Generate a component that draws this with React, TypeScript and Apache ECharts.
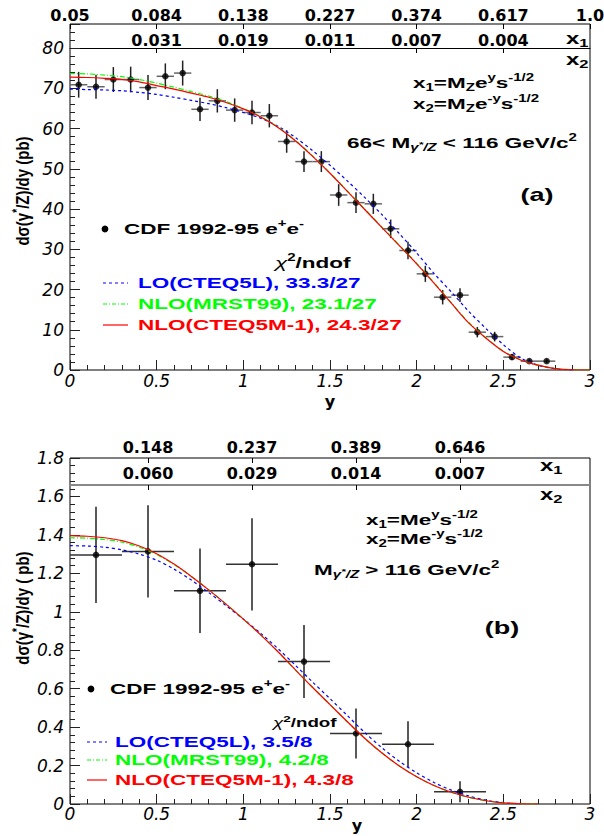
import React, { useEffect, useRef } from 'react';
import * as echarts from 'echarts';

// ---------------- data ----------------
// Panel (a): 66 < M < 116 GeV/c^2
const topBinCenters = [0.05, 0.15, 0.25, 0.35, 0.45, 0.55, 0.65, 0.75, 0.85, 0.95,
  1.05, 1.15, 1.25, 1.35, 1.45, 1.55, 1.65, 1.75, 1.85, 1.95,
  2.05, 2.15, 2.25, 2.35, 2.45, 2.55, 2.65, 2.75];
const topXsec = [70.9, 70.4, 72.2, 72.2, 70.2, 73.0, 73.8, 64.8, 66.9, 64.6,
  64.0, 63.2, 56.8, 51.8, 51.8, 43.5, 41.6, 41.3, 35.1, 29.7,
  23.9, 18.1, 18.6, 9.4, 8.3, 3.2, 2.2, 2.2];
const topErr = [3.2, 3.0, 3.1, 3.2, 3.1, 3.2, 3.1, 2.9, 2.9, 2.9,
  2.9, 2.9, 2.8, 2.6, 2.6, 2.7, 2.6, 2.5, 2.3, 2.2,
  2.0, 1.8, 1.7, 1.3, 1.2, 0.7, 0.5, 0.5];
const topHalfBin = 0.05;

const topCurveX = [0, 0.1, 0.2, 0.3, 0.4, 0.5, 0.6, 0.7, 0.8, 0.9, 1.0, 1.1, 1.2, 1.3, 1.4, 1.5,
  1.6, 1.7, 1.8, 1.9, 2.0, 2.1, 2.2, 2.3, 2.4, 2.5, 2.6, 2.7, 2.8, 2.9, 3.0];
const topLO = [69.8, 69.7, 69.6, 69.4, 69.0, 68.5, 67.8, 67.0, 66.2, 65.2, 64.0, 62.6, 60.6, 57.8, 54.5, 50.9,
  47.0, 42.9, 38.6, 33.9, 29.1, 24.0, 19.4, 14.6, 10.3, 6.3, 3.0, 1.2, 0.3, 0];
const topNLOMRST = [73.7, 73.6, 73.3, 72.9, 72.2, 71.3, 70.3, 69.2, 68.1, 66.7, 65.0, 63.0, 60.4, 57.1, 53.2, 49.0,
  44.5, 40.0, 35.5, 31.0, 26.5, 21.7, 16.7, 11.8, 8.0, 4.7, 2.5, 1.2, 0.35, 0.05, 0];
const topNLOCTEQ = [72.8, 72.7, 72.5, 72.2, 71.6, 70.7, 69.8, 68.8, 67.8, 66.5, 64.9, 62.9, 60.3, 57.0, 53.1, 48.9,
  44.4, 39.9, 35.4, 30.9, 26.4, 21.6, 16.6, 11.7, 7.9, 4.6, 2.5, 1.2, 0.35, 0.05, 0];

// Panel (b): M > 116 GeV/c^2
const botBinCenters = [0.15, 0.45, 0.75, 1.05, 1.35, 1.65, 1.95, 2.25];
const botXsec = [1.296, 1.314, 1.109, 1.247, 0.741, 0.367, 0.311, 0.064];
const botErr = [0.25, 0.24, 0.22, 0.24, 0.19, 0.13, 0.12, 0.055];
const botHalfBin = 0.15;

const botCurveX = [0, 0.1, 0.2, 0.3, 0.4, 0.5, 0.6, 0.7, 0.8, 0.9, 1.0, 1.1, 1.2, 1.3, 1.4, 1.5,
  1.6, 1.7, 1.8, 1.9, 2.0, 2.1, 2.2, 2.3, 2.4, 2.5, 2.6, 2.7];
const botLO = [1.344, 1.342, 1.336, 1.322, 1.300, 1.268, 1.222, 1.165, 1.100, 1.032, 0.962, 0.888, 0.808, 0.722,
  0.634, 0.548, 0.460, 0.372, 0.292, 0.222, 0.162, 0.112, 0.072, 0.042, 0.020, 0.007, 0];
const botNLOMRST = [1.385, 1.383, 1.376, 1.362, 1.336, 1.298, 1.246, 1.184, 1.114, 1.040, 0.962, 0.880, 0.792, 0.698,
  0.606, 0.517, 0.428, 0.342, 0.265, 0.198, 0.142, 0.096, 0.061, 0.035, 0.017, 0.006, 0.001, 0];
const botNLOCTEQ = [1.396, 1.393, 1.385, 1.370, 1.342, 1.302, 1.248, 1.184, 1.114, 1.040, 0.962, 0.880, 0.792, 0.698,
  0.606, 0.517, 0.428, 0.342, 0.265, 0.198, 0.142, 0.096, 0.061, 0.035, 0.017, 0.006, 0.001, 0];

// top-axis (x1 / x2) tick labels
const x1TopLabels = ['0.05', '0.084', '0.138', '0.227', '0.374', '0.617', '1.0'];
const x2TopLabels = ['', '0.031', '0.019', '0.011', '0.007', '0.004', ''];
const x1BotLabels = ['0.148', '0.237', '0.389', '0.646'];
const x2BotLabels = ['0.060', '0.029', '0.014', '0.007'];
const botLabelBins = [1, 3, 5, 7]; // index among 10 bins of width 0.3 (centres 0.45, 1.05, 1.65, 2.25)
const botBinCount = 10;

const chi2Top = ['33.3/27', '23.1/27', '24.3/27'];
const chi2Bot = ['3.5/8', '4.2/8', '4.3/8'];
const modelNames = ['LO(CTEQ5L)', 'NLO(MRST99)', 'NLO(CTEQ5M-1)'];

// ---------------- styling ----------------
const TF = 'DejaVu Sans';
const GF = 'Liberation Sans';
const BLUE = '#0000ff';
const GREEN = '#00ff00';
const RED = '#ff0000';
const SX = 1.5;

function rich(color: string, size: number) {
  const base = { fontFamily: GF, fontWeight: 'bold', fill: color };
  const s = Math.round(size * 0.68);
  return {
    n: { ...base, fontSize: size },
    i: { ...base, fontSize: size, fontStyle: 'italic', fontWeight: 'normal' },
    sup: { ...base, fontSize: s, padding: [0, 0, Math.round(size * 0.75), 0] },
    sub: { ...base, fontSize: s, padding: [Math.round(size * 0.55), 0, 0, 0] },
    subi: { ...base, fontSize: s, fontStyle: 'italic', padding: [Math.round(size * 0.55), 0, 0, 0] },
    subs: { ...base, fontSize: Math.round(size * 0.5), fontStyle: 'italic', padding: [Math.round(size * 0.1), 0, 0, 0] },
  };
}

function gtext(x: number, y: number, text: string, color: string, opts: any = {}) {
  const size = opts.size ?? 15;
  return {
    type: 'text',
    x,
    y,
    scaleX: opts.scaleX ?? SX,
    scaleY: opts.scaleY ?? 1,
    rotation: opts.rotation ?? 0,
    silent: true,
    z: 20,
    style: {
      text,
      rich: rich(color, size),
      fill: color,
      fontFamily: GF,
      fontWeight: 'bold',
      fontSize: size,
      align: opts.align ?? 'left',
      verticalAlign: 'middle',
    },
  };
}

function legendLine(x1: number, x2: number, y: number, color: string, dash: number[] | null) {
  return {
    type: 'line',
    silent: true,
    z: 20,
    shape: { x1, y1: y, x2, y2: y },
    style: { stroke: color, lineWidth: 1.2, lineDash: dash || undefined },
  };
}

function valueXAxis(gridIndex: number, name: string, nameGap: number, labelMargin: number) {
  return {
    type: 'value',
    gridIndex,
    position: 'bottom',
    min: 0,
    max: 3,
    interval: 0.5,
    axisLine: { show: false, onZero: false },
    axisTick: { show: true, inside: true, length: 10, lineStyle: { color: '#222', width: 1 } },
    minorTick: { show: true, splitNumber: 5, length: 5, lineStyle: { color: '#222', width: 1 } },
    axisLabel: {
      color: '#000', fontFamily: TF, fontStyle: 'italic', fontSize: 17, margin: labelMargin, lineHeight: 13,
    },
    splitLine: { show: false },
    minorSplitLine: { show: false },
    name,
    nameLocation: 'middle',
    nameGap,
    nameTextStyle: { color: '#000', fontFamily: TF, fontWeight: 'bold', fontSize: 16, lineHeight: 14 },
  };
}

function catTopAxis(gridIndex: number, data: string[], boundaryGap: boolean, offset: number,
  margin: number, line: any) {
  const keep = (_i: number, v: string) => v !== '';
  return {
    type: 'category',
    gridIndex,
    position: 'top',
    data,
    boundaryGap,
    offset,
    axisLine: line ? { show: true, onZero: false, lineStyle: line } : { show: false, onZero: false },
    axisTick: {
      show: true, inside: true, length: 5, alignWithLabel: true, interval: keep,
      lineStyle: { color: '#000', width: 1 },
    },
    axisLabel: { interval: 0, margin, color: '#000', fontFamily: TF, fontWeight: 'bold', fontSize: 16 },
    splitLine: { show: false },
  };
}

function errRender(hColor: string) {
  return (_params: any, api: any) => {
    const x = api.value(0);
    const y = api.value(1);
    const ex = api.value(2);
    const ey = api.value(3);
    const l = api.coord([x - ex, y]);
    const r = api.coord([x + ex, y]);
    const t = api.coord([x, y + ey]);
    const b = api.coord([x, y - ey]);
    return {
      type: 'group',
      children: [
        { type: 'line', shape: { x1: l[0], y1: l[1], x2: r[0], y2: r[1] }, style: { stroke: hColor, lineWidth: 1.5 } },
        { type: 'line', shape: { x1: t[0], y1: t[1], x2: b[0], y2: b[1] }, style: { stroke: '#222', lineWidth: 1.5 } },
      ],
    };
  };
}

function curve(xAxisIndex: number, yAxisIndex: number, xs: number[], ys: number[], color: string, type: any) {
  return {
    type: 'line',
    xAxisIndex,
    yAxisIndex,
    data: ys.map((v, i) => [xs[i], v]),
    symbol: 'none',
    showSymbol: false,
    smooth: 0.3,
    silent: true,
    z: 5,
    lineStyle: { color, width: 1.2, type },
  };
}

function buildOption() {
  const botCats1 = Array.from({ length: botBinCount }, () => '');
  const botCats2 = Array.from({ length: botBinCount }, () => '');
  botLabelBins.forEach((b, i) => {
    botCats1[b] = x1BotLabels[i];
    botCats2[b] = x2BotLabels[i];
  });

  const lineTypes: any[] = [[3, 3], [5, 2, 1, 2], 'solid'];
  const colors = [BLUE, GREEN, RED];
  const dashes: any[] = [[3, 3], [4, 2, 1, 2], null];

  const graphic: any[] = [
    // ----- panel (a) -----
    gtext(23, 191, '{n|dσ(γ}{sup|*}{n|/Z)/dy (pb)}', '#000', { rotation: Math.PI / 2, align: 'center', scaleX: 1, scaleY: 1.2 }),
    gtext(566, 38.5, '{n|x}{sub|1}', '#000', { size: 16 }),
    gtext(566, 59.5, '{n|x}{sub|2}', '#000', { size: 16 }),
    gtext(413, 83, '{n|x}{sub|1}{n|=M}{sub|Z}{n|e}{sup|y}{n|s}{sup|-1/2}', '#000'),
    gtext(413, 104, '{n|x}{sub|2}{n|=M}{sub|Z}{n|e}{sup|-y}{n|s}{sup|-1/2}', '#000'),
    gtext(347, 143, '{n|66< M}{subi|γ}{subs|*}{subi|/Z}{n| < 116 GeV/c}{sup|2}', '#000'),
    gtext(537, 195, '{n|(a)}', '#000', { size: 18, align: 'center' }),
    { type: 'circle', silent: true, z: 20, shape: { cx: 105, cy: 229, r: 3.4 }, style: { fill: '#000' } },
    gtext(124, 229, '{n|CDF 1992-95 e}{sup|+}{n|e}{sup|-}', '#000'),
    gtext(275, 263, '{i|χ}{sup|2}{n|/ndof}', '#000'),
    // ----- panel (b) -----
    gtext(23, 608, '{n|dσ(γ}{sup|*}{n|/Z)/dy ( pb)}', '#000', { rotation: Math.PI / 2, align: 'center', scaleX: 1, scaleY: 1.2 }),
    gtext(540, 466, '{n|x}{sub|1}', '#000', { size: 16 }),
    gtext(540, 494.5, '{n|x}{sub|2}', '#000', { size: 16 }),
    gtext(366, 520, '{n|x}{sub|1}{n|=Me}{sup|y}{n|s}{sup|-1/2}', '#000'),
    gtext(366, 539, '{n|x}{sub|2}{n|=Me}{sup|-y}{n|s}{sup|-1/2}', '#000'),
    gtext(314, 570, '{n|M}{subi|γ}{subs|*}{subi|/Z}{n| > 116 GeV/c}{sup|2}', '#000'),
    gtext(502, 628, '{n|(b)}', '#000', { size: 18, align: 'center' }),
    { type: 'circle', silent: true, z: 20, shape: { cx: 91, cy: 689, r: 3.4 }, style: { fill: '#000' } },
    gtext(110, 689, '{n|CDF 1992-95 e}{sup|+}{n|e}{sup|-}', '#000'),
    gtext(273, 723, '{i|χ}{sup|2}{n|/ndof}', '#000', { size: 12.5 }),
    // bottom-panel x-axis title, set beside the "1.5" label so it stays inside the page
    {
      type: 'text', x: 357, y: 825, silent: true, z: 20,
      style: { text: 'y', fill: '#000', fontFamily: TF, fontWeight: 'bold', fontSize: 16, align: 'center', verticalAlign: 'middle' },
    },
  ];
  const topRows = [283, 304, 325];
  const botRows = [742, 760, 780];
  modelNames.forEach((name, i) => {
    graphic.push(legendLine(103, 128, topRows[i], colors[i], dashes[i]));
    graphic.push(gtext(138, topRows[i], `{n|${name}, ${chi2Top[i]}}`, colors[i]));
    graphic.push(legendLine(87, 107, botRows[i], colors[i], dashes[i]));
    graphic.push(gtext(115, botRows[i], `{n|${name}, ${chi2Bot[i]}}`, colors[i]));
  });

  const yAxisCommon = {
    type: 'value',
    position: 'left',
    axisLine: { show: false, onZero: false },
    axisTick: { show: true, inside: true, length: 10, lineStyle: { color: '#222', width: 1 } },
    minorTick: { show: true, splitNumber: 5, length: 5, lineStyle: { color: '#222', width: 1 } },
    splitLine: { show: false },
    minorSplitLine: { show: false },
  };

  return {
    animation: false,
    backgroundColor: '#fff',
    grid: [
      { left: 70, right: 14, top: 24, bottom: 466, show: true, borderColor: '#000', borderWidth: 1, containLabel: false, outerBoundsMode: 'none' },
      { left: 70, right: 14, top: 458, bottom: 32, show: true, borderColor: '#000', borderWidth: 1, containLabel: false, outerBoundsMode: 'none' },
    ],
    xAxis: [
      valueXAxis(0, 'y', 24, 4),
      catTopAxis(0, x1TopLabels, false, 0, 1, null),
      catTopAxis(0, x2TopLabels, false, -24, 0, { color: '#000', width: 1 }),
      valueXAxis(1, '', 17, 3),
      catTopAxis(1, botCats1, true, 0, 3, null),
      catTopAxis(1, botCats2, true, -27, 4, { color: '#888', width: 2 }),
    ],
    yAxis: [
      {
        ...yAxisCommon,
        gridIndex: 0,
        min: 0,
        max: 86,
        interval: 10,
        axisLabel: {
          color: '#000', fontFamily: TF, fontStyle: 'italic', fontSize: 17, margin: 6,
          formatter: (v: number) => (v > 80.5 ? '' : String(v)),
        },
      },
      {
        ...yAxisCommon,
        gridIndex: 1,
        min: 0,
        max: 1.8,
        interval: 0.2,
        axisLabel: {
          color: '#000', fontFamily: TF, fontStyle: 'italic', fontSize: 17, margin: 6,
          formatter: (v: number) => String(+v.toFixed(1)),
        },
      },
    ],
    graphic,
    series: [
      {
        type: 'custom',
        xAxisIndex: 0,
        yAxisIndex: 0,
        renderItem: errRender('#666'),
        encode: { x: 0, y: 1 },
        data: topBinCenters.map((x, i) => [x, topXsec[i], topHalfBin, topErr[i]]),
        silent: true,
        z: 3,
      },
      {
        type: 'scatter',
        xAxisIndex: 0,
        yAxisIndex: 0,
        symbol: 'circle',
        symbolSize: 6.5,
        itemStyle: { color: '#000' },
        data: topBinCenters.map((x, i) => [x, topXsec[i]]),
        silent: true,
        z: 4,
      },
      curve(0, 0, topCurveX, topLO, BLUE, lineTypes[0]),
      curve(0, 0, topCurveX, topNLOMRST, GREEN, lineTypes[1]),
      curve(0, 0, topCurveX, topNLOCTEQ, RED, lineTypes[2]),
      {
        type: 'custom',
        xAxisIndex: 3,
        yAxisIndex: 1,
        renderItem: errRender('#333'),
        encode: { x: 0, y: 1 },
        data: botBinCenters.map((x, i) => [x, botXsec[i], botHalfBin, botErr[i]]),
        silent: true,
        z: 3,
      },
      {
        type: 'scatter',
        xAxisIndex: 3,
        yAxisIndex: 1,
        symbol: 'circle',
        symbolSize: 6.5,
        itemStyle: { color: '#000' },
        data: botBinCenters.map((x, i) => [x, botXsec[i]]),
        silent: true,
        z: 4,
      },
      curve(3, 1, botCurveX, botLO, BLUE, lineTypes[0]),
      curve(3, 1, botCurveX, botNLOMRST, GREEN, lineTypes[1]),
      curve(3, 1, botCurveX, botNLOCTEQ, RED, lineTypes[2]),
    ],
  };
}

export default function App() {
  const ref = useRef<HTMLDivElement>(null);
  useEffect(() => {
    document.body.style.margin = '0';
    const chart = echarts.init(ref.current as HTMLDivElement, null, { renderer: 'svg' });
    chart.setOption(buildOption() as any);
    return () => {
      chart.dispose();
    };
  }, []);
  return <div ref={ref} style={{ width: 604, height: 836 }} />;
}
